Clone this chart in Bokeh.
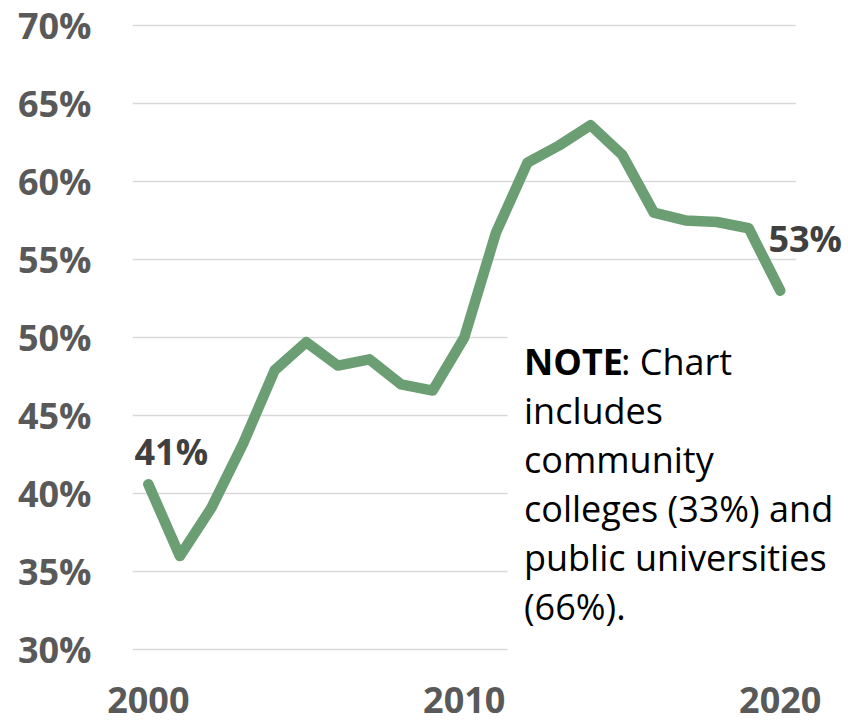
from bokeh.plotting import figure
from bokeh.models import Range1d, FixedTicker, CustomJSTickFormatter, Label, BoxAnnotation
from bokeh.embed import file_html
from bokeh.resources import INLINE

years = list(range(2000, 2021))
values = [40.6, 36.0, 39.1, 43.2, 47.9, 49.7, 48.2, 48.6, 47.0, 46.6, 50.0,
          56.7, 61.2, 62.3, 63.6, 61.7, 58.0, 57.5, 57.4, 57.0, 53.0]
y_ticks = [30, 35, 40, 45, 50, 55, 60, 65, 70]
x_ticks = [2000, 2010, 2020]
first_label = "41%"
last_label = "53%"
note_lines = ["includes", "community", "colleges (33%) and", "public universities", "(66%)."]

FONT = "Open Sans"
LINE_COLOR = "#6b9e73"
AXIS_COLOR = "#595959"

X0, X1 = 1999.5, 2020.5          # category span of the chart area
X_END = 2022.16                   # frame extends to the canvas edge for labels

p = figure(width=848, height=721, output_backend="svg", toolbar_location=None,
           x_range=Range1d(X0, X_END), y_range=Range1d(29.5, 70.5),
           min_border_left=132, min_border_right=0, min_border_top=17, min_border_bottom=64)
p.outline_line_color = None
p.background_fill_color = "white"
p.border_fill_color = "white"

# grid
p.xgrid.grid_line_color = None
p.ygrid.grid_line_color = "#d9d9d9"
p.ygrid.grid_line_width = 1.6
p.yaxis.ticker = FixedTicker(ticks=y_ticks)
p.xaxis.ticker = FixedTicker(ticks=x_ticks)
p.yaxis.formatter = CustomJSTickFormatter(code="return tick.toFixed(0) + '%';")

for ax in (p.xaxis, p.yaxis):
    ax.axis_line_color = None
    ax.major_tick_line_color = None
    ax.minor_tick_line_color = None
    ax.major_tick_out = 0
    ax.major_tick_in = 0
    ax.minor_tick_out = 0
    ax.major_label_text_font = FONT
    ax.major_label_text_font_style = "bold"
    ax.major_label_text_font_size = "36px"
    ax.major_label_text_color = AXIS_COLOR
p.yaxis.major_label_standoff = 41
p.xaxis.major_label_standoff = 29

# white boxes hiding gridlines: right of the chart area, and behind the note
p.add_layout(BoxAnnotation(left=X1, right=X_END + 1, bottom=20, top=80,
                           fill_color="white", fill_alpha=1.0, line_color=None,
                           level="underlay"))
p.add_layout(BoxAnnotation(left=2011.37, right=X_END + 1, bottom=20, top=50.45,
                           fill_color="white", fill_alpha=1.0, line_color=None,
                           level="underlay"))

p.line(years, values, line_color=LINE_COLOR, line_width=10.5,
       line_join="round", line_cap="round")

# data labels
p.add_layout(Label(x=years[0], y=values[0], text=first_label, x_offset=23, y_offset=33,
                   text_align="center", text_baseline="middle", text_font=FONT,
                   text_font_style="bold", text_font_size="36px", text_color="#404040"))
p.add_layout(Label(x=years[-1], y=values[-1], text=last_label, x_offset=25, y_offset=52,
                   text_align="center", text_baseline="middle", text_font=FONT,
                   text_font_style="bold", text_font_size="36px", text_color="#404040"))

# note
NOTE_SIZE = "36px"
note_x = 2011.89
note_y0 = 48.45
step = 3.14
p.add_layout(Label(x=note_x, y=note_y0, text="NOTE", text_align="left",
                   text_baseline="alphabetic", text_font=FONT, text_font_style="bold",
                   text_font_size=NOTE_SIZE, text_color="black"))
p.add_layout(Label(x=note_x, y=note_y0, x_offset=97, text=": Chart", text_align="left",
                   text_baseline="alphabetic", text_font=FONT,
                   text_font_size=NOTE_SIZE, text_color="black"))
for i, t in enumerate(note_lines):
    p.add_layout(Label(x=note_x, y=note_y0 - step * (i + 1), text=t, text_align="left",
                       text_baseline="alphabetic", text_font=FONT,
                       text_font_size=NOTE_SIZE, text_color="black"))

open("out.html", "w").write(file_html(p, INLINE))
